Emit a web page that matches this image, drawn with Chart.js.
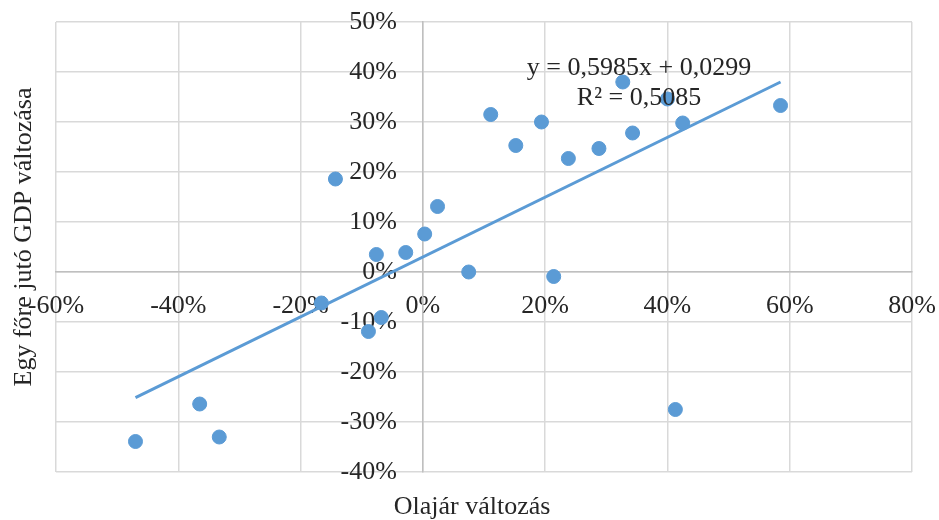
<!DOCTYPE html>
<html>
<head>
<meta charset="utf-8">
<script src="https://cdn.jsdelivr.net/npm/chart.js@4.4.1/dist/chart.umd.min.js"></script>
<style>
  body { margin: 0; background: #fff; }
  #wrap { width: 939px; height: 520px; }
</style>
</head>
<body>
<div id="wrap"><canvas id="chart"></canvas></div>
<script>
// oil price change (x) vs. GDP per capita change (y), in percent
const oilChange = [-14.3, 2.4, 0.3, -7.6, -2.8, 7.5, -16.6, -6.8, -8.9, -36.5, -47.0, -33.3,
                   21.4, 41.3, 11.1, 15.2, 19.4, 23.8, 28.8, 34.3, 32.7, 40.0, 42.5, 58.5];
const gdpChange = [18.6, 13.1, 7.6, 3.5, 3.9, 0.0, -6.2, -9.1, -11.9, -26.4, -33.9, -33.0,
                   -0.9, -27.5, 31.5, 25.3, 30.0, 22.7, 24.7, 27.8, 38.0, 34.6, 29.8, 33.3];

// trendline as printed on the chart
const slope = 0.5985;
const intercept = 0.0299;

const xTicks = [-60, -40, -20, 0, 20, 40, 60, 80];
const yTicks = [-40, -30, -20, -10, 0, 10, 20, 30, 40, 50];

const FONT = "'Liberation Serif', 'Times New Roman', serif";
const TEXT = '#262626';
const BLUE = '#5b9bd5';

const points = oilChange.map((x, i) => ({ x: x, y: gdpChange[i] }));
const xMin = Math.min(...oilChange);
const xMax = Math.max(...oilChange);
const trend = [xMin, xMax].map(x => ({ x: x, y: (slope * x / 100 + intercept) * 100 }));

// axis titles and trendline equation
const labelsPlugin = {
    id: 'labels',
    afterDatasetsDraw(chart) {
        const ctx = chart.ctx;
        ctx.save();
        ctx.fillStyle = TEXT;
        ctx.font = `26px ${FONT}`;
        ctx.textAlign = 'center';
        ctx.textBaseline = 'middle';
        ctx.fillText('y = 0,5985x + 0,0299', 639, 68);
        ctx.fillText('R² = 0,5085', 639, 98);

        ctx.fillText('Olajár változás', 472, 507);

        ctx.translate(24, 237);
        ctx.rotate(-Math.PI / 2);
        ctx.fillText('Egy főre jutó GDP változása', 0, 0);
        ctx.restore();
    }
};

// keep the tick labels from pushing the plot area inwards
function noPadding(axis) {
    axis.paddingLeft = 0;
    axis.paddingRight = 0;
    axis.paddingTop = 0;
    axis.paddingBottom = 0;
}

new Chart(document.getElementById('chart'), {
    type: 'scatter',
    data: {
        datasets: [
            {
                label: 'Országok',
                data: points,
                backgroundColor: BLUE,
                borderColor: BLUE,
                pointRadius: 7,
                pointHoverRadius: 7,
                order: 2
            },
            {
                label: 'Trend',
                type: 'line',
                data: trend,
                borderColor: BLUE,
                borderWidth: 3,
                pointRadius: 0,
                fill: false,
                order: 1
            }
        ]
    },
    options: {
        responsive: true,
        maintainAspectRatio: false,
        animation: false,
        layout: { padding: { left: 56, right: 27, top: 22, bottom: 48 } },
        plugins: {
            legend: { display: false },
            tooltip: { enabled: false }
        },
        scales: {
            x: {
                type: 'linear',
                position: { y: 0 },
                min: -60,
                max: 80,
                afterBuildTicks: axis => { axis.ticks = xTicks.map(v => ({ value: v })); },
                afterFit: noPadding,
                grid: { color: '#d9d9d9', lineWidth: 1.5, drawTicks: false },
                border: { color: '#bfbfbf', width: 1.5 },
                ticks: {
                    padding: 19,
                    maxRotation: 0,
                    color: TEXT,
                    font: { family: FONT, size: 26 },
                    callback: v => v + '%'
                }
            },
            y: {
                type: 'linear',
                position: { x: 0 },
                min: -40,
                max: 50,
                afterBuildTicks: axis => { axis.ticks = yTicks.map(v => ({ value: v })); },
                afterFit: noPadding,
                grid: { color: '#d9d9d9', lineWidth: 1.5, drawTicks: false },
                border: { color: '#bfbfbf', width: 1.5 },
                ticks: {
                    color: TEXT,
                    font: { family: FONT, size: 26 },
                    // labels on a positioned axis ignore padding, so the gap is an em space
                    callback: v => v + '%\u2003'
                }
            }
        }
    },
    plugins: [labelsPlugin]
});
</script>
</body>
</html>
